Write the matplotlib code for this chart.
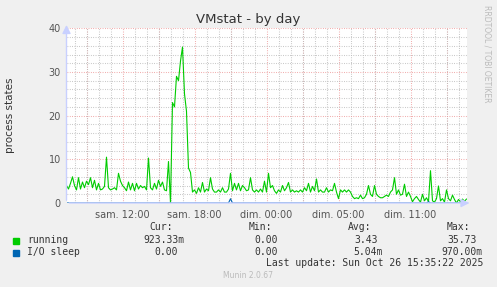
import numpy as np
from matplotlib import pyplot as plt
from matplotlib.ticker import MultipleLocator

# running processes, one sample every 10 minutes (hours relative to sam. 12:00)
start_hour = -4.667
step_hour = 1 / 6
running = [
    4.0, 3.2, 4.5, 6.0, 4.0, 3.0, 5.8, 3.2, 4.8, 3.5,
    5.0, 4.2, 5.8, 3.5, 5.2, 3.0, 4.5, 3.0, 3.2, 3.8,
    10.5, 3.5, 3.0, 3.2, 3.5, 3.0, 6.8, 5.0, 4.0, 3.5,
    2.8, 4.8, 3.0, 4.5, 2.8, 4.5, 3.2, 4.0, 3.5, 3.8,
    3.0, 10.3, 3.5, 3.0, 4.5, 3.2, 5.2, 3.8, 4.8, 3.0,
    2.8, 9.5, 0.0, 23.0, 22.0, 29.0, 28.0, 32.5, 35.7, 25.0,
    21.0, 8.0, 7.0, 2.5, 3.0, 2.2, 3.5, 2.5, 4.7, 2.5,
    3.2, 2.8, 5.8, 3.2, 2.5, 2.5, 3.0, 2.5, 3.5, 2.5,
    2.5, 3.2, 6.8, 2.8, 4.5, 3.0, 4.5, 2.8, 4.0, 3.5,
    2.8, 3.0, 5.8, 3.0, 2.5, 3.0, 2.5, 3.2, 2.5, 5.0,
    2.5, 6.8, 3.5, 4.0, 2.8, 2.2, 3.0, 2.5, 4.0, 2.8,
    3.5, 4.7, 2.5, 3.0, 2.5, 2.8, 2.5, 3.0, 2.5, 3.5,
    2.8, 4.5, 2.5, 3.8, 2.8, 5.5, 2.5, 3.0, 2.5, 2.5,
    3.5, 2.5, 3.0, 2.8, 4.5, 2.5, 1.0, 3.0, 2.5, 3.0,
    2.5, 3.0, 2.5, 1.5, 1.0, 1.2, 1.0, 1.8, 1.0, 1.2,
    2.0, 4.0, 2.0, 1.5, 4.0, 2.0, 1.5, 1.2, 1.2, 1.5,
    1.8, 1.5, 2.5, 3.0, 5.8, 2.0, 3.0, 1.8, 2.0, 4.3,
    1.5, 2.5, 1.5, 0.3, 1.0, 1.5, 0.8, 0.2, 2.0, 0.5,
    1.2, 0.3, 7.4, 0.5, 0.2, 1.0, 3.9, 0.5, 1.0, 0.2,
    3.0, 1.0, 0.5, 1.8, 0.8, 0.0, 0.8, 0.3, 0.9, 0.4,
    0.9,
]
io_sleep = [0.0] * 82 + [0.97] + [0.0] * 98 + [0.3] + [0.0] * 19

tick_hours = [0, 6, 12, 18, 24]
tick_labels = ["sam. 12:00", "sam. 18:00", "dim. 00:00", "dim. 05:00", "dim. 11:00"]

legend_rows = [
    ("running", "#00CC00", ["923.33m", "0.00", "3.43", "35.73"]),
    ("I/O sleep", "#0066B3", ["0.00", "0.00", "5.04m", "970.00m"]),
]

W, H = 497, 287
fig = plt.figure(figsize=(W / 100, H / 100), dpi=100, facecolor="#F0F0F0")
left, right, top, bottom = 66.5, 467.5, 28.3, 203.0
ax = fig.add_axes([left / W, 1 - bottom / H, (right - left) / W, (bottom - top) / H])
ax.set_facecolor("white")

x = start_hour + step_hour * np.arange(len(running))
ax.plot(x, running, color="#00CC00", lw=0.8)
ax.plot(x, io_sleep, color="#0066B3", lw=0.8)

ax.set_xlim((left - 122.5) / 12, (right - 122.5) / 12)
ax.set_ylim(0, 40)

dots = (0, (0.75, 1.5))
ax.set_xticks(tick_hours, tick_labels)
ax.xaxis.set_minor_locator(MultipleLocator(1))
ax.yaxis.set_major_locator(MultipleLocator(10))
ax.yaxis.set_minor_locator(MultipleLocator(2))
ax.grid(which="minor", color="#BBBBBB", linestyle=dots, lw=0.75)
ax.grid(which="major", axis="y", color="#EE9999", linestyle=dots, lw=0.75)
ax.set_axisbelow(True)
# red gridlines every 3 hours
for h in np.arange(-3, 29, 3):
    ax.axvline(h, color="#EE9999", linestyle=dots, lw=0.75, zorder=0.5)

ax.tick_params(axis="both", which="both", length=0, labelsize=7, colors="#555555", pad=4)
ax.tick_params(axis="x", labelsize=7, pad=5)
for s in ax.spines.values():
    s.set_visible(False)

# axis lines with arrows
ax.annotate("", xy=(0, 1.035), xytext=(0, 0), xycoords="axes fraction",
            arrowprops=dict(arrowstyle="-|>,head_width=0.25,head_length=0.5",
                            color="#C8D0FF", lw=1.0), annotation_clip=False)
ax.annotate("", xy=(1.012, 0), xytext=(0, 0), xycoords="axes fraction",
            arrowprops=dict(arrowstyle="-|>,head_width=0.25,head_length=0.5",
                            color="#C8D0FF", lw=1.0), annotation_clip=False)

fig.text(248 / W, 1 - 19 / H, "VMstat - by day", ha="center", va="center",
         fontsize=9.5, color="#333333")
fig.text(10 / W, 1 - 115 / H, "process states", ha="center", va="center",
         rotation=90, fontsize=7.5, color="#333333")
fig.text(487 / W, 1 - 5 / H, "RRDTOOL / TOBI OETIKER", ha="center", va="top",
         rotation=270, fontsize=5.5, color="#BBBBBB")

mono = dict(family="DejaVu Sans Mono", fontsize=7, color="#333333", va="center")
header_right = [173, 272, 371, 470]
for txt, xr in zip(["Cur:", "Min:", "Avg:", "Max:"], header_right):
    fig.text(xr / W, 1 - 227 / H, txt, ha="right", **mono)

value_right = [[185, 278, 378, 477], [178, 278, 383, 483]]
for (name, color, vals), xr_row, yy in zip(legend_rows, value_right, [240, 252]):
    fig.patches.append(plt.Rectangle((13 / W, 1 - (yy + 3.5) / H), 6 / W, 6 / H,
                                     transform=fig.transFigure, color=color))
    fig.text(27 / W, 1 - yy / H, name, ha="left", **mono)
    for v, xr in zip(vals, xr_row):
        fig.text(xr / W, 1 - yy / H, v, ha="right", **mono)

fig.text(483 / W, 1 - 263 / H, "Last update: Sun Oct 26 15:35:22 2025", ha="right", **mono)
fig.text(248 / W, 1 - 276 / H, "Munin 2.0.67", ha="center", va="center",
         fontsize=5.5, color="#BBBBBB")

fig.savefig("out.png", dpi=100, facecolor=fig.get_facecolor())
